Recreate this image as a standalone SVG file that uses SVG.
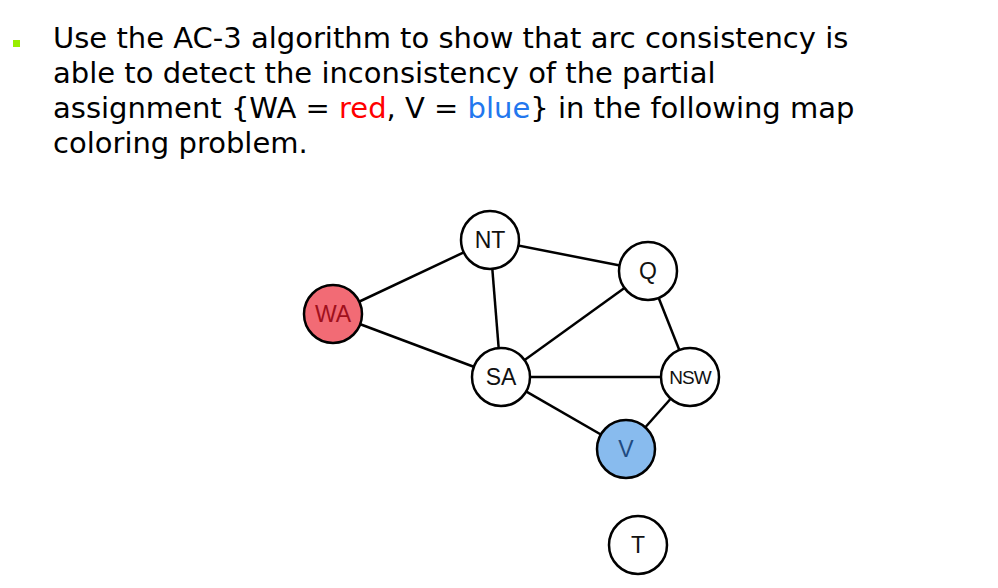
<svg xmlns="http://www.w3.org/2000/svg" width="998" height="588" viewBox="0 0 998 588">
<style>
.t{font-family:"DejaVu Sans",Verdana,sans-serif;font-size:29px;fill:#000}
.n circle{stroke:#000;stroke-width:2.5;fill:#fff}
.n text{font-family:"Liberation Sans",Arial,sans-serif;font-size:23px;text-anchor:middle;dominant-baseline:central;fill:#111}
#edges line{stroke:#000;stroke-width:2.5}
</style>
<rect width="998" height="588" fill="#fff"/>
<rect x="13" y="40" width="7" height="7" fill="#99ee00"/>
<text class="t" x="53" y="48">Use the AC-3 algorithm to show that arc consistency is</text>
<text class="t" x="53" y="83">able to detect the inconsistency of the partial</text>
<text class="t" x="53" y="118">assignment {WA = <tspan fill="#ff0000">red</tspan>, V = <tspan fill="#2277ee">blue</tspan>} in the following map</text>
<text class="t" x="53" y="153">coloring problem.</text>
<g id="edges">
<line x1="333" y1="314" x2="490" y2="240"/>
<line x1="333" y1="314" x2="501" y2="377"/>
<line x1="490" y1="240" x2="648" y2="271"/>
<line x1="490" y1="240" x2="501" y2="377"/>
<line x1="501" y1="377" x2="648" y2="271"/>
<line x1="501" y1="377" x2="690" y2="377"/>
<line x1="501" y1="377" x2="626" y2="449"/>
<line x1="648" y1="271" x2="690" y2="377"/>
<line x1="690" y1="377" x2="626" y2="449"/>
</g>
<g id="WA" class="n"><circle cx="333" cy="314" r="29" style="fill:#f26b75"/><text x="333" y="314" style="fill:#a0101c">WA</text></g>
<g id="NT" class="n"><circle cx="490" cy="240" r="29"/><text x="490" y="240">NT</text></g>
<g id="Q" class="n"><circle cx="648" cy="271" r="29"/><text x="648" y="271">Q</text></g>
<g id="SA" class="n"><circle cx="501" cy="377" r="29"/><text x="501" y="377">SA</text></g>
<g id="NSW" class="n"><circle cx="690" cy="377" r="29"/><text x="690" y="377" style="font-size:19px;letter-spacing:-1px">NSW</text></g>
<g id="V" class="n"><circle cx="626" cy="449" r="29" style="fill:#88bbee"/><text x="626" y="449" style="fill:#1f4a80">V</text></g>
<g id="T" class="n"><circle cx="638" cy="545" r="29"/><text x="638" y="545">T</text></g>
</svg>
